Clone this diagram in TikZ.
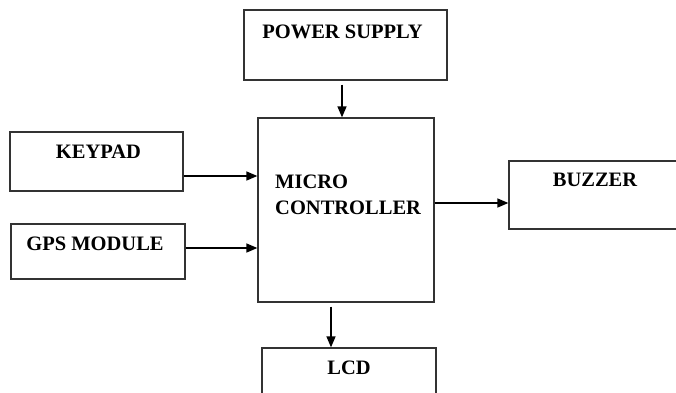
\documentclass[tikz,border=0pt]{standalone}
\usepackage{fontspec}
\setmainfont{Liberation Serif}
\usepackage{tikz}
\usetikzlibrary{positioning, arrows.meta, calc}
\tikzset{
    blk/.style={draw=black!80, line width=1.3pt, minimum width=174pt, minimum height=60pt, inner sep=0pt},
    blktxt/.style={font=\bfseries\fontsize{20.5}{25.5}\selectfont, inner sep=0pt, anchor=north},
    blkarrow/.style={-{Triangle[length=11pt, width=9pt]}, line width=1.5pt},
}
\begin{document}
\begin{tikzpicture}[x=1pt, y=-1pt]
        \clip (0,0) rectangle (676,392);
        \node[blk, minimum width=203pt, minimum height=70pt,
              label={[blktxt, xshift=-3pt, yshift=-15pt]north:POWER SUPPLY}] (pwr) at (345.5,45) {};
        \node[blk, minimum width=176pt, minimum height=184pt] (mcu) at (346,210) {};
        \node[blktxt, anchor=north west, align=left] (mcutxt) at (275,175) {MICRO\\CONTROLLER};
        \node[blk, minimum width=173pt, minimum height=59pt,
              label={[blktxt, xshift=2pt, yshift=-13pt]north:KEYPAD}] (key) at (96.5,161.5) {};
        \node[blk, minimum height=55pt,
              label={[blktxt, xshift=-3pt, yshift=-13pt]north:GPS MODULE}] (gps) at (98,251.5) {};
        \node[blk, minimum width=172pt, minimum height=68pt,
              label={[blktxt, yshift=-13pt]north:BUZZER}] (buz) at (595,195) {};
        \node[blk, minimum height=62pt,
              label={[blktxt, yshift=-13pt]north:LCD}] (lcd) at (349,379) {};
        \draw[blkarrow] ([shift={(-3.5,4)}]pwr.south) -- ([xshift=-4]mcu.north);
        \draw[blkarrow] ([yshift=-14.5]key.east) coordinate (k1) -- (k1 -| mcu.west);
        \draw[blkarrow] ([yshift=3.5]gps.east) coordinate (g1) -- (g1 -| mcu.west);
        \draw[blkarrow] ([yshift=7]mcu.east) coordinate (m1) -- (m1 -| buz.west);
        \draw[blkarrow] ([shift={(-15,4)}]mcu.south) coordinate (m2) -- (m2 |- lcd.north);
    \end{tikzpicture}
\end{document}
